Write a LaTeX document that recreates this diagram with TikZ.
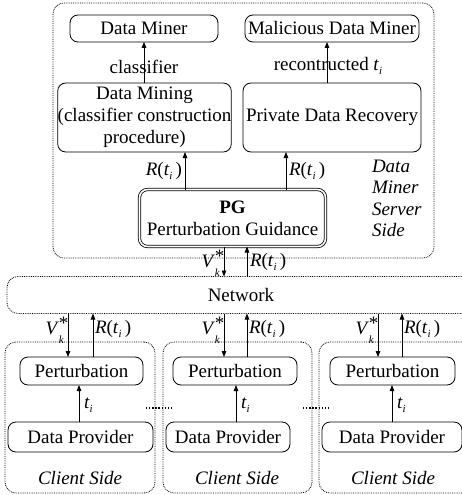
\documentclass[tikz,border=0pt]{standalone}
\usepackage{fontspec}
\setmainfont{Liberation Serif}
\usetikzlibrary{arrows.meta}
\newcommand\subi{\raisebox{-0.5ex}{\fontsize{11}{11}\selectfont\textit{i}}}
\newcommand\Rti{\textit{R}(\textit{t}\subi\,)}
\newcommand\Vks{\textit{V}\makebox[0pt][l]{\raisebox{0.65ex}{*}}\raisebox{-0.95ex}{\fontsize{11}{11}\selectfont\textit{k}}\hspace{0.25em}}
\newcommand\ti{\textit{t}\subi}
\begin{document}
\begin{tikzpicture}[x=1pt,y=-1pt,
  every node/.style={font=\fontsize{19}{22}\selectfont, inner sep=0pt, outer sep=0pt},
  box/.style={draw, rounded corners=8pt, line width=0.8pt, align=center},
  zone/.style={draw, densely dotted, rounded corners=11pt, line width=0.8pt},
  arr/.style={-{Triangle[length=6pt,width=4.5pt]}, line width=0.8pt},
  lbl/.style={inner sep=1pt}]
\useasboundingbox (0,0) rectangle (462,495);
% zones
\node[zone, minimum width=381pt, minimum height=255pt] (server) at (243.5,130.5) {};
\node[zone, minimum width=468pt, minimum height=37pt] (net) at (241,295) {Network};
\node[zone, minimum width=150pt, minimum height=151pt] (c1) at (80,417.5) {};
\node[zone, minimum width=149pt, minimum height=151pt] (c2) at (237.5,417.5) {};
\node[zone, minimum width=156pt, minimum height=151pt] (c3) at (397,417.5) {};
% server boxes
\node[box, minimum width=148pt, minimum height=27pt] (dminer) at (144,28.5) {Data Miner};
\node[box, minimum width=174pt, minimum height=27pt] (mal) at (332,28.5) {Malicious Data Miner};
\node[box, minimum width=171pt, minimum height=69pt] (dmining) at (144.5,117.5) {Data Mining\\(classifier construction\\procedure)};
\node[box, minimum width=178pt, minimum height=69pt] (pdr) at (332,117.5) {Private Data Recovery};
\node[box, double, double distance=1.6pt, minimum width=186pt, minimum height=57pt] (pg) at (232.5,218) {\textbf{PG}\\Perturbation Guidance};
\node[align=left, font=\fontsize{19}{21.5}\selectfont\itshape, anchor=north west] (side) at (372,160) {Data\\Miner\\Server\\Side};
% client boxes
\node[box, minimum width=123pt, minimum height=28pt] (p1) at (81.5,371) {Perturbation};
\node[box, minimum width=124pt, minimum height=28pt] (p2) at (235,371) {Perturbation};
\node[box, minimum width=125pt, minimum height=28pt] (p3) at (392.5,371) {Perturbation};
\node[box, minimum width=145pt, minimum height=30pt] (d1) at (80.5,437) {Data Provider};
\node[box, minimum width=124pt, minimum height=30pt] (d2) at (228,437) {Data Provider};
\node[box, minimum width=140pt, minimum height=30pt] (d3) at (392,437) {Data Provider};
\node[font=\fontsize{19}{22}\selectfont\itshape] (cs1) at (80,478) {Client Side};
\node[font=\fontsize{19}{22}\selectfont\itshape] (cs2) at (237,478) {Client Side};
\node[font=\fontsize{19}{22}\selectfont\itshape] (cs3) at (393,478) {Client Side};
% dots
\coordinate (dA1) at (146,408); \coordinate (dA2) at (173,408);
\coordinate (dB1) at (303,408); \coordinate (dB2) at (330,408);
\draw[line width=1.3pt, dash pattern=on 1.3pt off 1.8pt] (dA1) -- (dA2);
\draw[line width=1.3pt, dash pattern=on 1.3pt off 1.8pt] (dB1) -- (dB2);
% server arrows
\draw[arr] (dmining.north -| 144,0) -- (dminer.south -| 144,0);
\draw[arr] (pdr.north -| 327,0) -- (mal.south -| 327,0);
\node (cl) at (144,67) {classifier};
\node (rec) at (328,66) {recontructed \ti};
\draw[arr] (pg.north -| 185,0) -- (dmining.south -| 185,0);
\draw[arr] (pg.north -| 286,0) -- (pdr.south -| 286,0);
\node[lbl, anchor=east] (l1) at (183,171) {\Rti};
\node[lbl, anchor=west] (l2) at (288,171) {\Rti};
% pg - network
\draw[arr] (pg.south -| 224,0) -- (net.north -| 224,0);
\draw[arr] (net.north -| 247,0) -- (pg.south -| 247,0);
\node[lbl, anchor=east] (l3) at (221,263) {\Vks};
\node[lbl, anchor=west] (l4) at (249,262) {\Rti};
% network - clients
\foreach \n/\xa/\xb in {1/68/93, 2/224/247, 3/378/402}{
  \draw[arr] (net.south -| \xa,0) -- (p\n.north -| \xa,0);
  \draw[arr] (p\n.north -| \xb,0) -- (net.south -| \xb,0);
  \node[lbl, anchor=east] at (\xa-3,330) {\Vks};
  \node[lbl, anchor=west] at (\xb+1,329) {\Rti};
}
\foreach \n/\x in {1/79, 2/236, 3/392}{
  \draw[arr] (d\n.north -| \x,0) -- (p\n.south -| \x,0);
  \node[lbl, anchor=west] at (\x+4,405) {\ti};
}
\end{tikzpicture}
\end{document}
